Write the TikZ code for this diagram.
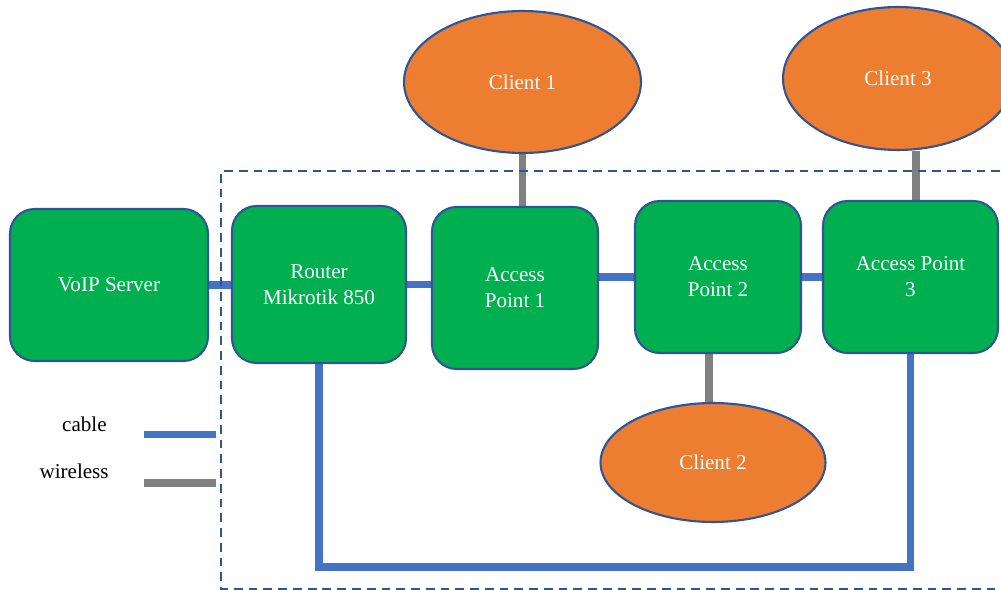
\documentclass[tikz,border=0pt]{standalone}
\usepackage{fontspec}
\setmainfont{Liberation Serif}
\usetikzlibrary{shapes.geometric,backgrounds}
\definecolor{boxgreen}{HTML}{00B050}
\definecolor{clientorange}{HTML}{ED7D31}
\definecolor{edgeblue}{HTML}{2F5597}
\definecolor{cableblue}{HTML}{4472C4}
\definecolor{wiregray}{HTML}{808080}
\begin{document}
\begin{tikzpicture}[x=0.02cm,y=-0.02cm,
  txt/.style={font=\fontsize{12}{14.7}\selectfont},
  devbox/.style={txt, draw=edgeblue, line width=1.2pt, fill=boxgreen, rounded corners=14pt, text=white, align=center, inner sep=0pt},
  client/.style={txt, ellipse, draw=edgeblue, line width=1.2pt, fill=clientorange, text=white, inner sep=0pt},
  cable/.style={draw=cableblue, line width=4pt},
  wireless/.style={draw=wiregray, line width=4pt},
  lbl/.style={txt, text=black, anchor=base east, inner sep=0pt},
  zone/.style={draw=edgeblue, line width=1.2pt, dash pattern=on 5pt off 3.4pt}
]
\useasboundingbox (0,0) rectangle (1001,590);
\clip (0,0) rectangle (1001,590);

% devices
\node[devbox, minimum width=3.96cm, minimum height=3.04cm] (voip) at (109,285) {VoIP Server};
\node[devbox, minimum width=3.48cm, minimum height=3.14cm] (router) at (319,284.5) {Router\\Mikrotik 850};
\node[devbox, minimum width=3.32cm, minimum height=3.24cm] (ap1) at (515,288) {Access\\Point 1};
\node[devbox, minimum width=3.32cm, minimum height=3.04cm] (ap2) at (718,277) {Access\\Point 2};
\node[devbox, minimum width=3.50cm, minimum height=3.04cm] (ap3) at (910.5,277) {Access Point\\3};

% clients
\node[client, minimum width=4.74cm, minimum height=2.84cm] (c1) at (522.5,82) {Client 1};
\node[client, minimum width=4.50cm, minimum height=2.38cm] (c2) at (713,462.5) {Client 2};
\node[client, minimum width=4.60cm, minimum height=2.86cm] (c3) at (898,78.5) {Client 3};

% legend
\node[lbl] (lcable) at (107,432) {cable};
\node[lbl] (lwire) at (109,479) {wireless};
\coordinate (cabA) at (144,434.5);
\coordinate (cabB) at (216,434.5);
\coordinate (wirA) at (144,483);
\coordinate (wirB) at (216,483);
\coordinate (loopy) at (0,567);

\begin{scope}[on background layer]
  % cables
  \draw[cable] (voip.east) -- (voip.east -| router.west);
  \draw[cable] (router.east) -- (router.east -| ap1.west);
  \draw[cable] (ap2.west -| ap1.east) -- (ap2.west);
  \draw[cable] (ap2.east) -- (ap3.west);
  \draw[cable, line join=miter] (router.south) -- (router.south |- loopy) -| (ap3.south);
  % wireless
  \draw[wireless] (c1.south) -- (c1.south |- ap1.north);
  \path (ap2.south) ++(-9,0) coordinate (ap2w);
  \draw[wireless] (ap2w) -- (ap2w |- c2.north);
  \path (ap3.north) ++(5.5,0) coordinate (ap3w);
  \draw[wireless] (ap3w) -- (ap3w |- c3.south);
  % legend lines
  \draw[cable] (cabA) -- (cabB);
  \draw[wireless] (wirA) -- (wirB);
  % dashed zone
  \draw[zone] (1015,171) -- (221,171) -- (221,589) -- (1015,589);
\end{scope}
\end{tikzpicture}
\end{document}
